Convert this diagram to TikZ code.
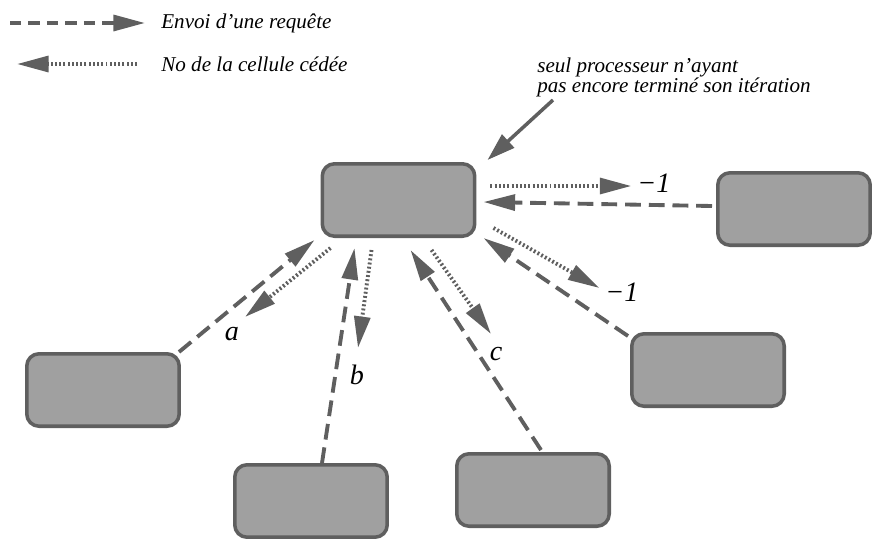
\documentclass[tikz,border=0pt]{standalone}
\usepackage{fontspec}
\setmainfont{Liberation Serif}
\newfontfamily\notefont{Liberation Serif}
\usetikzlibrary{arrows.meta, positioning}
\definecolor{procgray}{RGB}{160,160,160}
\definecolor{linegray}{RGB}{95,95,95}

\begin{document}
\begin{tikzpicture}[x=0.02cm, y=-0.02cm,
    proc/.style={draw=linegray, fill=procgray, line width=2pt, rounded corners=7pt,
        minimum width=3.05cm, minimum height=1.45cm, inner sep=0pt},
    req/.style={linegray, line width=2.2pt, dash pattern=on 9pt off 4.5pt,
        -{Triangle[length=18pt, width=9pt]}},
    ans/.style={linegray, line width=2.2pt, dash pattern=on 1.1pt off 1.3pt,
        -{Triangle[length=18pt, width=9pt]}},
    lbl/.style={font=\notefont\itshape\fontsize{16}{18}\selectfont, inner sep=1pt},
    legend/.style={font=\notefont\itshape\fontsize{12}{11.2}\selectfont, inner sep=0pt}]
    \useasboundingbox (0,0) rectangle (872,538);

    % Legend
    \coordinate (lgreq) at (10,23);
    \coordinate (lgans) at (17,64);
    \node[legend, anchor=west] (envoi) at (161,23) {Envoi d’une requête};
    \node[legend, anchor=west] (cellule) at (161,64) {No de la cellule cédée};
    \draw[req, dash pattern=on 6.5pt off 4pt] (lgreq) -- ([shift={(-16,0)}]envoi.west);
    \draw[ans] ([shift={(-24,0)}]cellule.west) -- (lgans);

    % Processors
    \node[proc] (busy) at (398.5,200) {};
    \node[proc] (pe) at (794,209) {};
    \node[proc] (pd) at (708,370) {};
    \node[proc] (pa) at (103,390) {};
    \node[proc] (pb) at (311,501) {};
    \node[proc] (pc) at (533,490) {};

    % Note on the busy processor
    \node[legend, align=left, anchor=south west] (note) at (537,97)
        {seul processeur n’ayant\\pas encore terminé son itération};
    \draw[linegray, line width=2pt, -{Triangle[length=16pt, width=10pt]}]
        ([shift={(16,3)}]note.south west) -- ([shift={(11,-2)}]busy.north east);

    % Labels
    \node[lbl] (la) at (232,334) {a};
    \node[lbl] (lb) at (357,375) {b};
    \node[lbl] (lc) at (496,354) {c};
    \node[lbl] (mone) at (654,183) {−1};
    \node[lbl] (mtwo) at (622,292) {−1};

    % Requests and answers
    \draw[req] ([shift={(-4,-3)}]pe.west) -- ([shift={(7,2)}]busy.east);
    \draw[ans] ([shift={(14,-14)}]busy.east) -- ([shift={(-4,3)}]mone.west);
    \draw[req] ([shift={(-2,4)}]pd.north west) -- ([shift={(7,0)}]busy.south east);
    \draw[ans] ([shift={(17,-10)}]busy.south east) -- ([shift={(-4,-4)}]mtwo.west);
    \draw[req] ([shift={(-2,0)}]pa.north east) -- ([shift={(-6,2)}]busy.south west);
    \draw[ans] ([shift={(10,10)}]busy.south west) -- ([shift={(13,-17)}]la.center);
    \draw[req] ([shift={(11,0)}]pb.north) -- ([shift={(34,10)}]busy.south west);
    \draw[ans] ([shift={(51,12)}]busy.south west) -- ([shift={(1,-27)}]lb.center);
    \draw[req] ([shift={(8,-2)}]pc.north) -- ([shift={(12,12)}]busy.south);
    \draw[ans] ([shift={(33,12)}]busy.south) -- ([shift={(-5,-20)}]lc.center);
\end{tikzpicture}
\end{document}
